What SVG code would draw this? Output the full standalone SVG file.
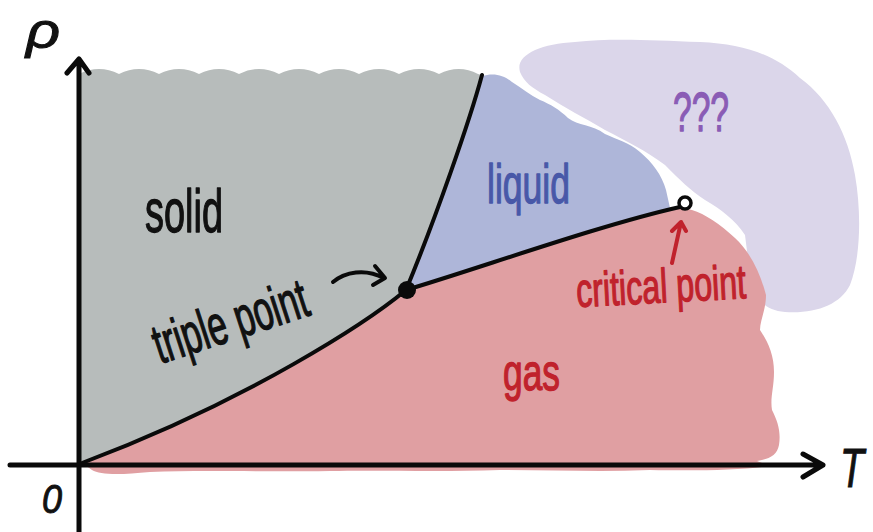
<svg xmlns="http://www.w3.org/2000/svg" width="873" height="532" viewBox="0 0 873 532">
<style>
.hand{font-family:"Liberation Sans",Arial,sans-serif;font-weight:normal;stroke-width:1.3;stroke-linejoin:round}
.ax{font-family:"Liberation Sans",Arial,sans-serif;font-style:italic;fill:#111;stroke:#111;stroke-width:1}
.line{fill:none;stroke:#0a0a0a;stroke-width:4;stroke-linecap:round;stroke-linejoin:round}
.axis{fill:none;stroke:#0a0a0a;stroke-width:5;stroke-linecap:round;stroke-linejoin:round}
.red{fill:none;stroke:#c0222c;stroke-width:4;stroke-linecap:round;stroke-linejoin:round}
</style>
<rect width="873" height="532" fill="#ffffff"/>
<g id="regions">
<path id="unknown" fill="#dbd6ea" d="M520,72 C515,55 540,44 575,42 C610,38 650,40 700,42 C745,44 775,55 800,78 C830,100 848,135 855,175 C862,215 860,260 850,285 C840,305 815,314 785,312 C762,310 752,295 750,275 L745,235 C735,220 722,210 705,200 C690,190 680,180 665,165 C645,150 628,142 605,130 C585,118 565,108 545,95 C532,88 524,82 520,72 Z"/>
<path id="solid-region" fill="#b7bcbb" d="M79,465 L79,74 q20,-10 40,0 q20,-10 40,0 q20,-10 40,0 q20,-10 40,0 q20,-10 40,0 q20,-10 40,0 q20,-10 40,0 q20,-10 40,0 q20,-10 40,0 q20,-10 39,0 L482,75 C470,120 435,220 406,290 C370,320 250,400 82,463 Z"/>
<path id="liquid-region" fill="#aeb6d9" d="M406,290 C435,220 470,120 482,76 C495,72 505,76 512,82 C522,88 530,95 540,100 C550,104 560,110 568,118 C578,126 592,124 605,134 C618,140 628,142 640,152 C652,162 662,175 666,190 L670,208 C600,225 480,268 406,290 Z"/>
<path id="gas-region" fill="#e09fa2" d="M82,463 C250,400 370,320 406,290 C480,268 600,225 680,207 L692,210 C705,214 720,224 735,238 C750,252 760,272 766,295 C766,310 760,320 760,330 C768,342 774,355 774,372 C774,388 770,398 772,410 C778,422 781,432 779,445 C777,455 770,459 757,461 L770,466 C740,470 700,471 650,470 C600,472 550,470 500,470 C440,472 380,470 330,471 C260,472 200,470 150,472 C120,475 100,475 92,470 Z"/>
</g>
<g id="connectors">
<path id="sublimation" class="line" d="M82,463 C250,400 370,320 406,290"/>
<path id="melting" class="line" d="M406,290 C435,220 470,120 482,75"/>
<path id="vaporization" class="line" d="M406,290 C480,268 600,225 680,207"/>
<path id="triple-arrow" class="line" d="M333,282 C345,272 365,268 384,278 M375,266 L385,278 L373,285"/>
<path id="critical-arrow" class="red" d="M672,263 L681,222 M672,231 L681,222 L686,231"/>
</g>
<g id="axes">
<path class="axis" d="M79,532 L79,59 M67,73 L79,59 L89,73"/>
<path class="axis" d="M10,465 L823,465 M803,454 L823,465 L803,477"/>
</g>
<g id="triple-point"><circle cx="407" cy="290" r="9" fill="#0a0a0a"/></g>
<g id="critical-point"><circle cx="685" cy="203" r="6" fill="#ffffff" stroke="#0a0a0a" stroke-width="3.5"/></g>
<g id="labels">
<text class="ax" x="26" y="48" font-size="50" textLength="34" lengthAdjust="spacingAndGlyphs">ρ</text>
<text class="ax" x="42" y="513" font-size="40" textLength="20" lengthAdjust="spacingAndGlyphs">0</text>
<text class="ax" x="840" y="487" font-size="56" textLength="24" lengthAdjust="spacingAndGlyphs">T</text>
<text class="hand" x="145" y="232" font-size="62" fill="#111" stroke="#111" textLength="78" lengthAdjust="spacingAndGlyphs">solid</text>
<text class="hand" x="487" y="203" font-size="56" fill="#4858a8" stroke="#4858a8" textLength="83" lengthAdjust="spacingAndGlyphs">liquid</text>
<text class="hand" x="673" y="131" font-size="56" fill="#8a5cb5" stroke="#8a5cb5" textLength="56" lengthAdjust="spacingAndGlyphs">???</text>
<text class="hand" x="503" y="390" font-size="52" fill="#c0222c" stroke="#c0222c" textLength="57" lengthAdjust="spacingAndGlyphs">gas</text>
<text class="hand" font-size="56" fill="#111" stroke="#111" transform="translate(160,364) rotate(-18)" textLength="160" lengthAdjust="spacingAndGlyphs">triple point</text>
<text class="hand" font-size="48" fill="#c0222c" stroke="#c0222c" transform="translate(577,307) rotate(-3)" textLength="170" lengthAdjust="spacingAndGlyphs">critical point</text>
</g>
</svg>
